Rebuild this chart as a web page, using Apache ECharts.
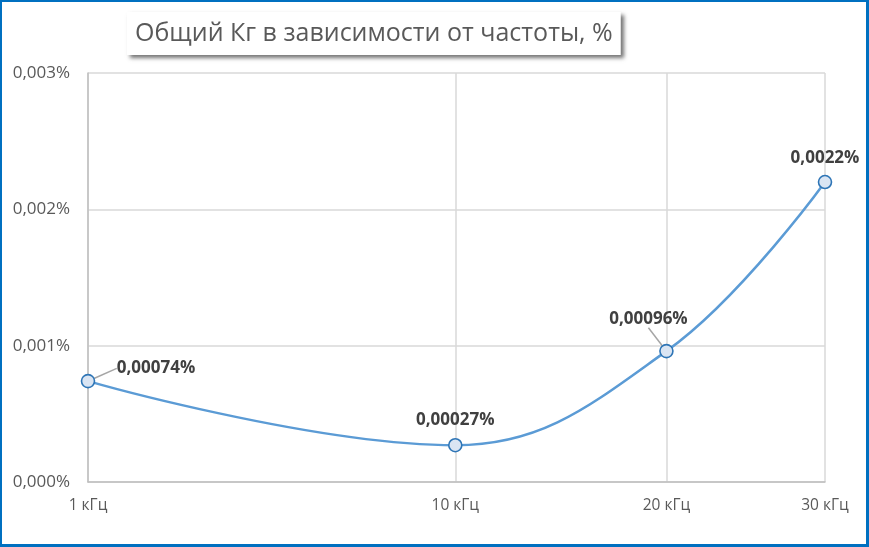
<!DOCTYPE html>
<html>
<head>
<meta charset="utf-8">
<script src="https://cdn.jsdelivr.net/npm/echarts@6/dist/echarts.min.js"></script>
<style>
html,body{margin:0;padding:0;background:#fff;}
#wrap{width:869px;height:547px;box-sizing:border-box;border:3px solid #0070C0;border-top-width:2px;border-left-width:2px;position:relative;}
#chart{position:absolute;left:-2px;top:-2px;width:869px;height:547px;}
</style>
</head>
<body>
<div id="wrap"><div id="chart"></div></div>
<script>
const titleText = 'Общий Кг в зависимости от частоты, %';
const frequencies = [1, 10, 20, 30];
const freqUnit = ' кГц';
const kgValues = [0.00074, 0.00027, 0.00096, 0.0022];
const valueLabels = ['0,00074%', '0,00027%', '0,00096%', '0,0022%'];
const yMin = 0, yMax = 0.003, yStep = 0.001;

// Excel's frequency axis is visually compressed; use a power scale
const P = 0.46;
const pos = f => Math.pow(f, P);
const inv = v => Math.round(Math.pow(v, 1 / P));

const labelOffsets = [[68, 8], [0, -4], [-18, -11], [0, -3]];
const withLine = [true, false, true, false];

const FONT = "'Open Sans', 'Noto Sans', sans-serif";

const chart = echarts.init(document.getElementById('chart'), null, {renderer: 'canvas'});
chart.setOption({
  animation: false,
  backgroundColor: 'transparent',
  title: {
    text: titleText,
    left: 127, top: 12,
    padding: [9, 8, 9, 8],
    backgroundColor: '#fff',
    shadowBlur: 4, shadowColor: 'rgba(0,0,0,0.55)', shadowOffsetX: 3, shadowOffsetY: 3,
    textStyle: {fontFamily: FONT, fontSize: 25, fontWeight: 'normal', color: '#595959'}
  },
  grid: {left: 88, right: 44, top: 73, bottom: 65, containLabel: false},
  xAxis: {
    type: 'value',
    min: pos(frequencies[0]), max: pos(frequencies[frequencies.length - 1]),
    axisLine: {show: true, lineStyle: {color: '#bfbfbf', width: 1.5}},
    axisTick: {show: false, customValues: frequencies.map(pos)},
    axisLabel: {
      customValues: frequencies.map(pos),
      formatter: v => inv(v) + freqUnit,
      color: '#595959', fontFamily: FONT, fontSize: 15.5, margin: 16
    },
    splitLine: {show: true, lineStyle: {color: '#d9d9d9', width: 1.5}}
  },
  yAxis: {
    type: 'value', min: yMin, max: yMax, interval: yStep,
    axisLine: {show: true, lineStyle: {color: '#bfbfbf', width: 1.5}},
    axisTick: {show: false},
    axisLabel: {
      formatter: v => v.toFixed(3).replace('.', ',') + '%',
      color: '#595959', fontFamily: FONT, fontSize: 17, margin: 18
    },
    splitLine: {show: true, lineStyle: {color: '#d9d9d9', width: 1.5}}
  },
  series: [{
    type: 'line',
    smooth: 0.4,
    data: frequencies.map((f, i) => ({
      value: [pos(f), kgValues[i]],
      label: {formatter: valueLabels[i]},
      labelLine: {show: withLine[i]}
    })),
    lineStyle: {color: '#5b9bd5', width: 2.5},
    symbol: 'circle', symbolSize: 13,
    itemStyle: {color: '#dae5f3', borderColor: '#2e75b6', borderWidth: 1.6},
    label: {
      show: true, position: 'top', distance: 5,
      fontFamily: FONT, fontSize: 17, fontWeight: 'bold', color: '#404040'
    },
    labelLine: {lineStyle: {color: '#a6a6a6', width: 1.5}},
    labelLayout: p => ({dx: labelOffsets[p.dataIndex][0], dy: labelOffsets[p.dataIndex][1]})
  }]
});
</script>
</body>
</html>
